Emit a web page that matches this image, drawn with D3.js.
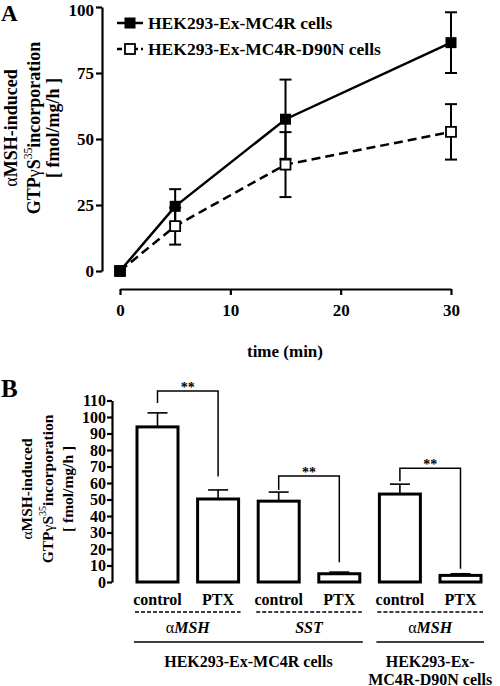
<!DOCTYPE html>
<html><head><meta charset="utf-8">
<script src="https://cdn.jsdelivr.net/npm/d3@7"></script>
<style>
body{margin:0;background:#fff;}
svg{display:block;font-family:"Liberation Serif","Times New Roman",serif;font-weight:bold;}
</style></head>
<body><svg id="c" width="500" height="686"></svg>
<script>
// ---------- Panel A data ----------
const timePoints = [0, 5, 15, 30];
const wtMean = [0, 24.5, 57.5, 86.5];
const wtErr  = [0, 6.5, 15, 11.5];
const mutMean = [0, 17, 40.3, 52.7];
const mutErr  = [0, 7, 12.3, 10.5];
const seriesNames = ["HEK293-Ex-MC4R cells", "HEK293-Ex-MC4R-D90N cells"];
const aYTicks = [0, 25, 50, 75, 100];
const aXTicks = [0, 10, 20, 30];

// ---------- Panel B data ----------
const barLabels = ["control", "PTX", "control", "PTX", "control", "PTX"];
const barValues = [94, 50.3, 49, 5, 53.3, 4];
const barErrors = [8.5, 5.5, 5.5, 1, 6, 1];
const bYTicks = [0,10,20,30,40,50,60,70,80,90,100,110];
const bracketPairs = [[0,1],[2,3],[4,5]];
const bracketTop = [115.8, 64.2, 69];
const bracketLeftEnd = [108.5, 55.8, 61];
const bracketRightEnd = [64, 12, 8];
const stimulusGroups = [{pre:"α", name:"MSH", bars:[0,1]}, {pre:"", name:"SST", bars:[2,3]}, {pre:"α", name:"MSH", bars:[4,5]}];
const cellGroups = [{lines:["HEK293-Ex-MC4R cells"], bars:[0,3]}, {lines:["HEK293-Ex-","MC4R-D90N cells"], bars:[4,5]}];

const svg = d3.select("#c");
const SERIF = "Liberation Serif";

// ================= Panel A =================
const xA = d3.scaleLinear().domain([0,30]).range([120,451]);
const yA = d3.scaleLinear().domain([0,100]).range([271,7]);
const gA = svg.append("g");

gA.append("text").attr("x",1).attr("y",21).attr("font-size",23).text("A");

const axYA = gA.append("g").attr("transform","translate(102,0)")
  .call(d3.axisLeft(yA).tickValues(aYTicks).tickSize(6).tickSizeOuter(0).tickPadding(2));
const axXA = gA.append("g").attr("transform","translate(0,289)")
  .call(d3.axisBottom(xA).tickValues(aXTicks).tickSize(6).tickSizeOuter(0).tickPadding(6));
[axYA, axXA].forEach(a=>{
  a.attr("font-family",SERIF);
  a.selectAll("path,line").attr("stroke","#000").attr("stroke-width",2.2);
  a.selectAll("text").attr("font-family",SERIF).attr("font-weight","bold").attr("font-size",17).attr("fill","#000");
});
axXA.selectAll("text").attr("dy","0.9em");
axYA.selectAll(".tick").filter(d=>d===100).select("text").attr("dy","0.5em");

gA.append("text").attr("x",285).attr("y",357).attr("text-anchor","middle").attr("font-size",17).text("time (min)");

// y labels
function ylabel(g, b1, b2, b3, fs){
  const t1 = g.append("text").attr("y",b1);
  t1.append("tspan").attr("font-weight","normal").text("α");
  t1.append("tspan").text("MSH-induced");
  const t2 = g.append("text").attr("y",b2);
  t2.append("tspan").text("GTP");
  t2.append("tspan").attr("font-weight","normal").text("γ");
  t2.append("tspan").text("S");
  t2.append("tspan").attr("font-size",fs*0.65).attr("dy",-fs*0.45).attr("font-weight","normal").text("35");
  t2.append("tspan").attr("dy",fs*0.45).text("incorporation");
  g.append("text").attr("y",b3).text("[ fmol/mg/h ]");
}
const ylA = gA.append("g").attr("transform","translate(0,128) rotate(-90)").attr("text-anchor","middle").attr("font-size",18);
ylabel(ylA, 17, 40, 59, 18);

// error bars
function errBars(means, errs){
  timePoints.forEach((t,i)=>{
    if(errs[i]<=0) return;
    const x = xA(t), y1 = yA(means[i]+errs[i]), y2 = yA(means[i]-errs[i]);
    gA.append("line").attr("x1",x).attr("x2",x).attr("y1",y1).attr("y2",y2).attr("stroke","#000").attr("stroke-width",2);
    [y1,y2].forEach(y=>gA.append("line").attr("x1",x-6).attr("x2",x+6).attr("y1",y).attr("y2",y).attr("stroke","#000").attr("stroke-width",2));
  });
}
errBars(wtMean, wtErr);
errBars(mutMean, mutErr);

const line = d3.line().x((d,i)=>xA(timePoints[i])).y(d=>yA(d));
gA.append("path").datum(mutMean).attr("d",line).attr("fill","none").attr("stroke","#000").attr("stroke-width",2.5).attr("stroke-dasharray","9,5");
gA.append("path").datum(wtMean).attr("d",line).attr("fill","none").attr("stroke","#000").attr("stroke-width",2.5);

gA.selectAll("rect.mut").data(mutMean).enter().append("rect")
  .attr("x",(d,i)=>xA(timePoints[i])-5).attr("y",d=>yA(d)-5).attr("width",10).attr("height",10)
  .attr("fill","#fff").attr("stroke","#000").attr("stroke-width",1.8);
gA.selectAll("rect.wt").data(wtMean).enter().append("rect")
  .attr("x",(d,i)=>xA(timePoints[i])-5.5).attr("y",d=>yA(d)-5.5).attr("width",11).attr("height",11)
  .attr("fill","#000");

// legend
const legY = [23, 49];
seriesNames.forEach((n,i)=>{
  const g = gA.append("g");
  g.append("line").attr("x1",117).attr("x2",143).attr("y1",legY[i]).attr("y2",legY[i]).attr("stroke","#000").attr("stroke-width",2.5)
    .attr("stroke-dasharray", i===1?"5,3":null);
  if(i===0) g.append("rect").attr("x",124.5).attr("y",legY[i]-5.5).attr("width",11).attr("height",11).attr("fill","#000");
  else g.append("rect").attr("x",125).attr("y",legY[i]-5).attr("width",10).attr("height",10).attr("fill","#fff").attr("stroke","#000").attr("stroke-width",1.8);
  g.append("text").attr("x",148).attr("y",legY[i]+6).attr("font-size",17.5).text(n);
});

// ================= Panel B =================
const gB = svg.append("g");
const yB = d3.scaleLinear().domain([0,110]).range([582,400.5]);
const xB = d3.scalePoint().domain(d3.range(barLabels.length)).range([157.5,460.5]);
const bw = 41;

gB.append("text").attr("x",1).attr("y",397).attr("font-size",25).text("B");

const axYB = gB.append("g").attr("transform","translate(112,0)")
  .call(d3.axisLeft(yB).tickValues(bYTicks).tickSize(5).tickSizeOuter(0).tickPadding(1));
axYB.attr("font-family",SERIF);
axYB.selectAll("path,line").attr("stroke","#000").attr("stroke-width",2.2);
axYB.selectAll("text").attr("font-family",SERIF).attr("font-weight","bold").attr("font-size",16).attr("fill","#000");

const ylB = gB.append("g").attr("transform","translate(0,489) rotate(-90)").attr("text-anchor","middle").attr("font-size",15.5);
ylabel(ylB, 32, 53, 73, 15.5);

// error bars (upper only)
barValues.forEach((v,i)=>{
  const x = xB(i), yt = yB(v+barErrors[i]);
  gB.append("line").attr("x1",x).attr("x2",x).attr("y1",yt).attr("y2",yB(v)).attr("stroke","#000").attr("stroke-width",1.6);
  gB.append("line").attr("x1",x-10).attr("x2",x+10).attr("y1",yt).attr("y2",yt).attr("stroke","#000").attr("stroke-width",1.6);
});
gB.selectAll("rect.bar").data(barValues).enter().append("rect")
  .attr("x",(d,i)=>xB(i)-bw/2).attr("y",d=>yB(d)).attr("width",bw).attr("height",d=>yB(0)-yB(d))
  .attr("fill","#fff").attr("stroke","#000").attr("stroke-width",3);

// brackets
bracketPairs.forEach((p,k)=>{
  const xl = xB(p[0]), xr = xB(p[1]);
  const pts = [[xl,yB(bracketLeftEnd[k])],[xl,yB(bracketTop[k])],[xr,yB(bracketTop[k])],[xr,yB(bracketRightEnd[k])]];
  gB.append("path").attr("d",d3.line()(pts)).attr("fill","none").attr("stroke","#000").attr("stroke-width",1.5);
  gB.append("text").attr("x",(xl+xr)/2).attr("y",yB(bracketTop[k])+1).attr("text-anchor","middle").attr("font-size",14).text("**");
});

// category labels
barLabels.forEach((l,i)=>{
  gB.append("text").attr("x",xB(i)).attr("y",605).attr("text-anchor","middle").attr("font-size",16).text(l);
});
stimulusGroups.forEach(g=>{
  const x1 = xB(g.bars[0])-bw/2-2, x2 = xB(g.bars[1])+bw/2+2;
  gB.append("line").attr("x1",x1).attr("x2",x2).attr("y1",612).attr("y2",612).attr("stroke","#000").attr("stroke-width",1.5).attr("stroke-dasharray","4,2");
  const t = gB.append("text").attr("x",(xB(g.bars[0])+xB(g.bars[1]))/2).attr("y",633).attr("text-anchor","middle").attr("font-size",16);
  if(g.pre) t.append("tspan").attr("font-weight","normal").text(g.pre);
  t.append("tspan").attr("font-style","italic").text(g.name);
});
cellGroups.forEach(g=>{
  const x1 = xB(g.bars[0])-bw/2-3, x2 = xB(g.bars[1])+bw/2+3;
  gB.append("line").attr("x1",x1).attr("x2",x2).attr("y1",642).attr("y2",642).attr("stroke","#000").attr("stroke-width",1.6);
  g.lines.forEach((l,j)=>{
    gB.append("text").attr("x",(x1+x2)/2).attr("y",667+j*17.5).attr("text-anchor","middle").attr("font-size",16).text(l);
  });
});
</script></body></html>
